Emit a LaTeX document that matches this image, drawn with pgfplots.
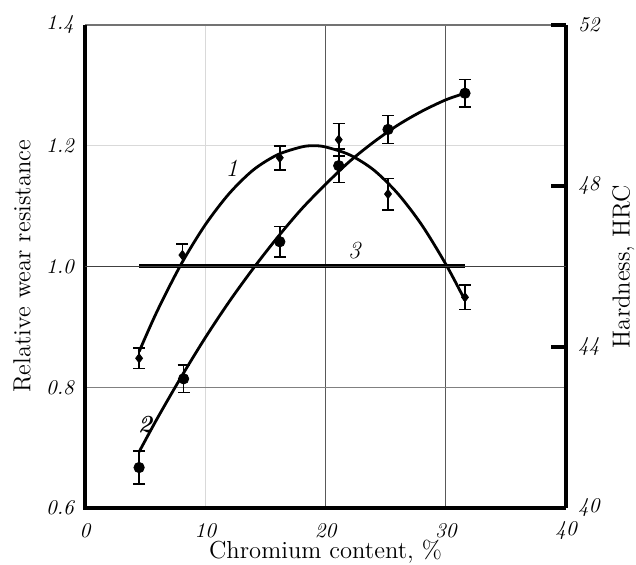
\documentclass[border=0pt]{standalone}
\usepackage{pgfplots}
\pgfplotsset{compat=1.18}
\usepackage{pgfplotstable}

% measured points: x, y, error
\pgfplotstableread{
x y e
4.5 0.848 0.017
8.1 1.019 0.018
16.2 1.180 0.020
21.1 1.210 0.027
25.2 1.120 0.026
31.6 0.949 0.020
}\wearA
\pgfplotstableread{
x y e
4.5 0.667 0.027
8.2 0.814 0.023
16.2 1.041 0.025
21.1 1.167 0.028
25.2 1.227 0.023
31.6 1.287 0.023
}\wearB

\newcommand{\lblfont}{\fontsize{12.3}{15}\selectfont}
\newcommand{\tckfont}{\itshape\fontsize{10.5}{12}\selectfont}

\begin{document}
\begin{tikzpicture}
\begin{axis}[
    scale only axis,
    width=240.5pt, height=241.5pt,
    xmin=0, xmax=40, ymin=0.6, ymax=1.4,
    xtick={0,10,20,30,40},
    ytick={0.6,0.8,1.0,1.2,1.4},
    yticklabels={0.6,0.8,1.0,1.2,1.4},
    /pgf/number format/assume math mode=true,
    ticklabel style={font=\tckfont},
    xticklabel style={anchor=center, yshift=-11.5pt},
    yticklabel style={xshift=-2pt},
    major tick length=0pt,
    axis line style={draw=none},
    xmajorgrids, ymajorgrids,
    major grid style={black!15, line width=0.5pt},
    extra x ticks={20,30},
    extra x tick labels={},
    extra x tick style={grid=major, major grid style={black!65, line width=0.5pt}},
    extra y ticks={0.8},
    extra y tick labels={},
    extra y tick style={grid=major, major grid style={black!50, line width=0.5pt}},
    xlabel={Chromium content, \%},
    ylabel={Relative wear resistance},
    label style={font=\lblfont, inner sep=0pt},
    xlabel style={at={(axis description cs:0.5,-0.1056)}, anchor=base},
    ylabel style={at={(axis description cs:-0.131,0.5)}, anchor=center, rotate=0},
    clip=false,
]
% frame
\draw[black!55, line width=0.6pt] (rel axis cs:0,1) -- (rel axis cs:1,1);
\draw[line width=2pt] (rel axis cs:0,1) -- (rel axis cs:0,0) -- (rel axis cs:1,0);

% curve 3
\addplot[black, line width=2pt] coordinates {(4.5,1.0) (31.6,1.0)};

% fitted curve 1
\addplot[black, line width=1.4pt, smooth] coordinates {
(4.5,0.859) (6,0.926) (8,1.004) (10,1.069) (12,1.121) (14,1.160)
(16,1.185) (18,1.198) (19,1.200) (20,1.198) (22,1.185) (24,1.160)
(26,1.121) (28,1.069) (30,1.004) (31.6,0.944)};
% fitted curve 2
\addplot[black, line width=1.4pt, smooth] coordinates {
(4.5,0.693) (6,0.748) (8,0.817) (10,0.882) (12,0.942) (14,0.997)
(16,1.048) (18,1.095) (20,1.136) (22,1.174) (24,1.206) (26,1.234)
(28,1.257) (30,1.276) (31.6,1.287)};

% points with error bars
\addplot[black, only marks, mark=diamond*, mark size=2.3pt,
    error bars/.cd, y dir=both, y explicit,
    error bar style={line width=0.8pt},
    error mark options={rotate=90, mark size=3pt, line width=0.8pt}]
    table[x=x, y=y, y error=e] {\wearA};
\addplot[black, only marks, mark=*, mark size=2.6pt,
    error bars/.cd, y dir=both, y explicit,
    error bar style={line width=0.8pt},
    error mark options={rotate=90, mark size=3pt, line width=0.8pt}]
    table[x=x, y=y, y error=e] {\wearB};

\node[font=\lblfont\itshape] at (axis cs:12.2,1.163) {1};
\node[font=\lblfont\itshape\bfseries] at (axis cs:5.0,0.738) {2};
\node[font=\lblfont\itshape] at (axis cs:22.4,1.027) {3};
\end{axis}

\begin{axis}[
    scale only axis,
    width=240.5pt, height=241.5pt,
    xmin=0, xmax=40, ymin=40, ymax=52,
    axis x line=none,
    axis y line*=right,
    axis line style={line width=2pt, -},
    ytick={40,44,48,52},
    /pgf/number format/assume math mode=true,
    yticklabel style={font=\tckfont, xshift=2.5pt},
    tick align=inside,
    major tick length=7.5pt,
    tick style={black, line width=2pt},
    extra y ticks={46},
    extra y tick labels={},
    extra y tick style={grid=major, tick style={draw=none},
        major grid style={black!75, line width=0.6pt}},
    ylabel={Hardness, HRC},
    ylabel style={font=\lblfont, inner sep=0pt, at={(axis description cs:1.119,0.5)}, anchor=center, rotate=0},
]
\end{axis}

\path (-42.5pt,-28.5pt) rectangle (275.5pt,254pt);
\end{tikzpicture}
\end{document}
